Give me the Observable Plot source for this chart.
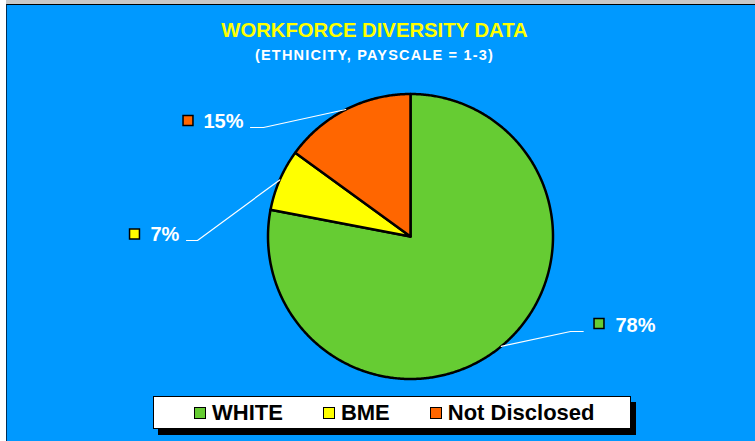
<!DOCTYPE html>
<html><head><meta charset="utf-8">
<script src="https://cdn.jsdelivr.net/npm/d3@7"></script>
<script src="https://cdn.jsdelivr.net/npm/@observablehq/plot@0.6"></script>
<style>
html,body{margin:0;padding:0;background:#fff;}
#frame{position:relative;width:755px;height:441px;overflow:hidden;font-family:Arial,"Liberation Sans",sans-serif;}
#topband{position:absolute;left:6px;top:0;width:749px;height:4px;background:#c8c8c8;}
#panel{position:absolute;left:6px;top:4px;width:749px;height:437px;background:#0099FF;border-top:1px solid #000;border-left:1px solid #00305a;box-sizing:border-box;}
#chart{position:absolute;left:0;top:0;}
#title{position:absolute;left:0;width:749px;top:19.5px;text-align:center;color:#FFFF00;font-weight:bold;font-size:20.3px;line-height:20.3px;white-space:nowrap;}
#subtitle{position:absolute;left:0;width:749px;top:47.7px;text-align:center;color:#fff;font-weight:bold;font-size:14.5px;line-height:14.5px;letter-spacing:1.2px;white-space:nowrap;}
#legend{position:absolute;left:153px;top:396px;width:478px;height:33px;box-sizing:border-box;background:#fff;border:1px solid #000;box-shadow:5px 6px 0 #000;display:flex;align-items:center;padding-left:40px;gap:40px;}
.item{display:flex;align-items:center;font-weight:bold;font-size:22px;line-height:31px;color:#000;white-space:nowrap;}
.sw{width:12px;height:12px;box-sizing:border-box;border:1.5px solid #000;margin-right:6px;}
</style>
</head><body>
<div id="frame">
  <div id="topband"></div>
  <div id="panel"></div>
  <div id="chart"></div>
  <div id="title"></div>
  <div id="subtitle"></div>
  <div id="legend"></div>
</div>
<script>
// ---- data ----
const titleText = "WORKFORCE DIVERSITY DATA";
const subtitleText = "(ETHNICITY, PAYSCALE = 1-3)";
const categories = ["WHITE", "BME", "Not Disclosed"];
const values = [78, 7, 15];
const valueLabels = ["78%", "7%", "15%"];
const colors = ["#66CC33", "#FFFF00", "#FF6600"];

// ---- layout (pixels) ----
const W = 755, H = 441;
const pie = {cx: 410, cy: 236, r: 142.5};
const labelLayout = {
  "WHITE":         {marker: [598.5, 323], text: [615, 325], elbow: [[570, 331], [582.7, 331]]},
  "BME":           {marker: [134, 233.5], text: [150, 234], elbow: [[197, 240], [186, 240]]},
  "Not Disclosed": {marker: [187.5, 120], text: [203, 121.3], elbow: [[263, 127], [250, 127]]}
};

document.getElementById("title").textContent = titleText;
document.getElementById("subtitle").textContent = subtitleText;

// pie angles, clockwise from 12 o'clock
const total = d3.sum(values);
let acc = 0;
const slices = categories.map((name, i) => {
  const a0 = acc / total * 2 * Math.PI;
  acc += values[i];
  const a1 = acc / total * 2 * Math.PI;
  return {name, a0, a1, label: valueLabels[i]};
});
const pt = (a, rr = pie.r) => [pie.cx + rr * Math.sin(a), pie.cy - rr * Math.cos(a)];

const polyPts = [];
for (const s of slices) {
  polyPts.push({name: s.name, x: pie.cx, y: pie.cy});
  const n = Math.max(2, Math.ceil((s.a1 - s.a0) / (Math.PI / 360)));
  for (let k = 0; k <= n; k++) {
    const [x, y] = pt(s.a0 + (s.a1 - s.a0) * k / n);
    polyPts.push({name: s.name, x, y});
  }
  polyPts.push({name: s.name, x: pie.cx, y: pie.cy});
}

const leaderPts = [];
for (const s of slices) {
  const [x, y] = pt((s.a0 + s.a1) / 2);
  leaderPts.push({name: s.name, x, y});
  for (const [ex, ey] of labelLayout[s.name].elbow) leaderPts.push({name: s.name, x: ex, y: ey});
}
const labelRows = slices.map(s => ({
  name: s.name, label: s.label,
  mx: labelLayout[s.name].marker[0], my: labelLayout[s.name].marker[1],
  tx: labelLayout[s.name].text[0], ty: labelLayout[s.name].text[1]
}));

const plot = Plot.plot({
  width: W, height: H,
  margin: 0,
  style: {background: "transparent", overflow: "visible"},
  x: {domain: [0, W], range: [0, W], axis: null},
  y: {domain: [0, H], range: [0, H], axis: null},
  color: {domain: categories, range: colors},
  marks: [
    Plot.line(polyPts, {x: "x", y: "y", z: "name", fill: "name", stroke: "#000", strokeWidth: 2.5, strokeLinejoin: "round"}),
    Plot.line(leaderPts, {x: "x", y: "y", z: "name", stroke: "#fff", strokeWidth: 1.2}),
    Plot.dot(labelRows, {x: "mx", y: "my", fill: "name", symbol: "square", r: 5.6, stroke: "#000", strokeWidth: 1.5}),
    Plot.text(labelRows, {x: "tx", y: "ty", text: "label", fill: "#fff", textAnchor: "start", fontSize: 20, fontWeight: "bold", fontFamily: "Arial, 'Liberation Sans', sans-serif"})
  ]
});
document.getElementById("chart").appendChild(plot);

// legend
const legend = document.getElementById("legend");
categories.forEach((c, i) => {
  const it = document.createElement("div");
  it.className = "item";
  const sw = document.createElement("div");
  sw.className = "sw";
  sw.style.background = colors[i];
  const t = document.createElement("span");
  t.textContent = c;
  it.appendChild(sw); it.appendChild(t);
  legend.appendChild(it);
});
</script>
</body></html>
